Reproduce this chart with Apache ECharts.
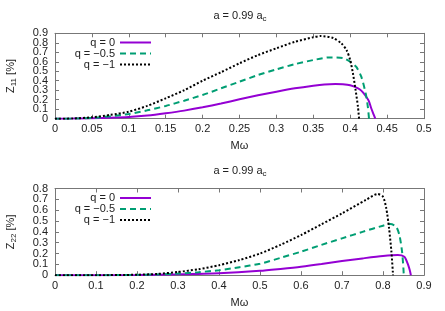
<!DOCTYPE html>
<html><head><meta charset="utf-8">
<script src="https://cdn.jsdelivr.net/npm/echarts@6/dist/echarts.min.js"></script>
<style>html,body{margin:0;padding:0;background:#fff}#c{width:445px;height:311px}</style>
</head><body><div id="c"></div>
<script>
// ---- text ----
const seriesNames = ['q = 0', 'q = \u22120.5', 'q = \u22121'];
const titleMain = 'a = 0.99 a';
const titleSub = 'c';
const xName = 'M\u03c9';
const yNameTopSub = '11';
const yNameBotSub = '22';
// ---- axis ranges / ticks ----
const topX = [0, 0.5, 0.05];
const topY = [0, 0.9, 0.1];
const botX = [0, 0.9, 0.1];
const botY = [0, 0.8, 0.1];
// ---- data: top panel (Z11) ----
const top_q0 = [[0,0],[0.025,0.001],[0.05,0.004],[0.075,0.009],[0.1,0.017],[0.125,0.033],[0.15,0.057],[0.175,0.085],[0.2,0.12],[0.225,0.16],[0.25,0.204],[0.275,0.247],[0.3,0.285],[0.325,0.32],[0.35,0.348],[0.365,0.361],[0.38,0.366],[0.39,0.363],[0.4,0.352],[0.41,0.322],[0.415,0.296],[0.42,0.25],[0.425,0.19],[0.4285,0.11],[0.432,0.04],[0.434,0]];
const top_q05 = [[0,0],[0.025,0.001],[0.05,0.008],[0.075,0.025],[0.1,0.05],[0.125,0.088],[0.15,0.134],[0.175,0.19],[0.2,0.25],[0.225,0.32],[0.25,0.39],[0.275,0.46],[0.3,0.52],[0.325,0.575],[0.35,0.618],[0.372,0.646],[0.39,0.64],[0.4,0.6],[0.408,0.548],[0.415,0.443],[0.421,0.267],[0.424,0.12],[0.4255,0]];
const top_q1 = [[0,0],[0.025,0.002],[0.05,0.015],[0.075,0.04],[0.1,0.074],[0.125,0.135],[0.15,0.215],[0.175,0.3],[0.2,0.4],[0.225,0.49],[0.25,0.584],[0.275,0.67],[0.3,0.742],[0.325,0.81],[0.35,0.858],[0.36,0.871],[0.377,0.85],[0.388,0.794],[0.395,0.724],[0.4,0.618],[0.4037,0.478],[0.4073,0.302],[0.4105,0.126],[0.412,0]];
// ---- data: bottom panel (Z22) ----
const bot_q0 = [[0,0],[0.1,0],[0.2,0.002],[0.3,0.008],[0.4,0.018],[0.5,0.04],[0.55,0.058],[0.6,0.078],[0.65,0.103],[0.7,0.131],[0.75,0.155],[0.8,0.177],[0.836,0.186],[0.852,0.17],[0.86,0.109],[0.865,0.05],[0.868,0]];
const bot_q05 = [[0,0],[0.1,0],[0.2,0.003],[0.25,0.007],[0.3,0.015],[0.35,0.028],[0.4,0.046],[0.45,0.074],[0.5,0.106],[0.55,0.16],[0.6,0.217],[0.65,0.28],[0.7,0.34],[0.75,0.4],[0.8,0.457],[0.818,0.472],[0.832,0.448],[0.84,0.37],[0.8465,0.217],[0.85,0.05],[0.8506,0]];
const bot_q1 = [[0,0],[0.1,0],[0.2,0.004],[0.25,0.012],[0.3,0.03],[0.35,0.055],[0.4,0.092],[0.45,0.14],[0.5,0.2],[0.55,0.28],[0.6,0.37],[0.65,0.47],[0.7,0.57],[0.758,0.694],[0.787,0.749],[0.8,0.723],[0.808,0.617],[0.8148,0.432],[0.8205,0.217],[0.8245,0]];

const FONT = 'Liberation Sans, Arial, sans-serif';
const BORDER = '#777';
const TXT = '#222';
const colors = ['#9400d3', '#009e73', '#000000'];
const lineTypes = ['solid', [6, 4], [2, 2]];
const GRID_L = 55, GRID_R = 21, W = 445;
const PLOT_W = W - GRID_L - GRID_R;

function isEnd(v, r) { return Math.abs(v - r[0]) < 1e-9 || Math.abs(v - r[1]) < 1e-9; }

function xAxes(gi, r) {
  const base = {type:'value', gridIndex:gi, min:r[0], max:r[1], interval:r[2], splitLine:{show:false},
    axisLine:{show:true, onZero:false, lineStyle:{color:BORDER, width:1}},
    axisTick:{show:true, inside:true, length:4, lineStyle:{color:BORDER}}};
  return [
    Object.assign({}, base, {position:'bottom', name:xName, nameLocation:'middle', nameGap:22,
      nameTextStyle:{fontFamily:FONT, fontSize:11, color:TXT},
      axisLabel:{margin:5, fontFamily:FONT, fontSize:11, color:TXT, showMinLabel:true, showMaxLabel:true}}),
    Object.assign({}, base, {position:'top', axisLabel:{show:false}})
  ];
}
function yAxes(gi, r, sub) {
  const base = {type:'value', gridIndex:gi, min:r[0], max:r[1], interval:r[2], splitLine:{show:false},
    axisLine:{show:true, onZero:false, lineStyle:{color:BORDER, width:1}},
    axisTick:{show:true, inside:true, length:4, lineStyle:{color:BORDER}}};
  return [
    // left axis: inner tick labels
    Object.assign({}, base, {position:'left', name:'{n|Z}{s|' + sub + '}{n| [%]}', nameLocation:'middle', nameGap:37, nameRotate:90,
      nameTextStyle:{fontFamily:FONT, fontSize:11, color:TXT,
        rich:{n:{fontFamily:FONT, fontSize:11, color:TXT, lineHeight:14},
              s:{fontFamily:FONT, fontSize:8, color:TXT, verticalAlign:'bottom', lineHeight:9}}},
      axisLabel:{margin:7, fontFamily:FONT, fontSize:11, color:TXT, showMinLabel:false, showMaxLabel:false,
        formatter:function (v) { return isEnd(v, r) ? '' : String(v); }}}),
    // right axis: mirrored ticks; carries the end labels (placed on the left side)
    Object.assign({}, base, {position:'right',
      axisLabel:{margin:-(PLOT_W + 7), align:'right', fontFamily:FONT, fontSize:11, color:TXT,
        showMinLabel:true, showMaxLabel:true,
        formatter:function (v) { return isEnd(v, r) ? String(v) : ''; }}})
  ];
}
function mkSeries(data, k, xi, yi) {
  return {type:'line', name:seriesNames[k], data:data, xAxisIndex:xi, yAxisIndex:yi,
    symbol:'none', showSymbol:false, smooth:0.25, animation:false,
    lineStyle:{color:colors[k], width:2, type:lineTypes[k]}, itemStyle:{color:colors[k]}};
}
function mkTitle(topPx) {
  return {text:'{n|' + titleMain + '}{s|' + titleSub + '}', left:240, top:topPx, textAlign:'center', padding:0,
    textStyle:{fontWeight:'normal', rich:{n:{fontFamily:FONT, fontSize:11, fontWeight:'normal', color:TXT, lineHeight:14},
                     s:{fontFamily:FONT, fontSize:8, fontWeight:'normal', color:TXT, verticalAlign:'bottom', lineHeight:9}}}};
}
function mkLegend(topPx) {
  return {orient:'vertical', align:'right', right:293, top:topPx, padding:0, itemGap:0,
    itemWidth:31, itemHeight:8, data:seriesNames,
    itemStyle:{opacity:0, color:'rgba(0,0,0,0)', borderWidth:0},
    textStyle:{fontFamily:FONT, fontSize:11, color:TXT, lineHeight:11}};
}

const chart = echarts.init(document.getElementById('c'), null, {renderer:'canvas'});
chart.setOption({
  animation:false,
  backgroundColor:'#fff',
  title:[mkTitle(9), mkTitle(164)],
  legend:[mkLegend(37), mkLegend(192.5)],
  grid:[{left:GRID_L, right:GRID_R, top:33.3, bottom:192.3, outerBoundsMode:'none', containLabel:false},
        {left:GRID_L, right:GRID_R, top:188.5, bottom:35.8, outerBoundsMode:'none', containLabel:false}],
  xAxis:[...xAxes(0, topX), ...xAxes(1, botX)],
  yAxis:[...yAxes(0, topY, yNameTopSub), ...yAxes(1, botY, yNameBotSub)],
  series:[
    mkSeries(top_q0, 0, 0, 0), mkSeries(top_q05, 1, 0, 0), mkSeries(top_q1, 2, 0, 0),
    mkSeries(bot_q0, 0, 2, 2), mkSeries(bot_q05, 1, 2, 2), mkSeries(bot_q1, 2, 2, 2)
  ]
});
</script></body></html>
